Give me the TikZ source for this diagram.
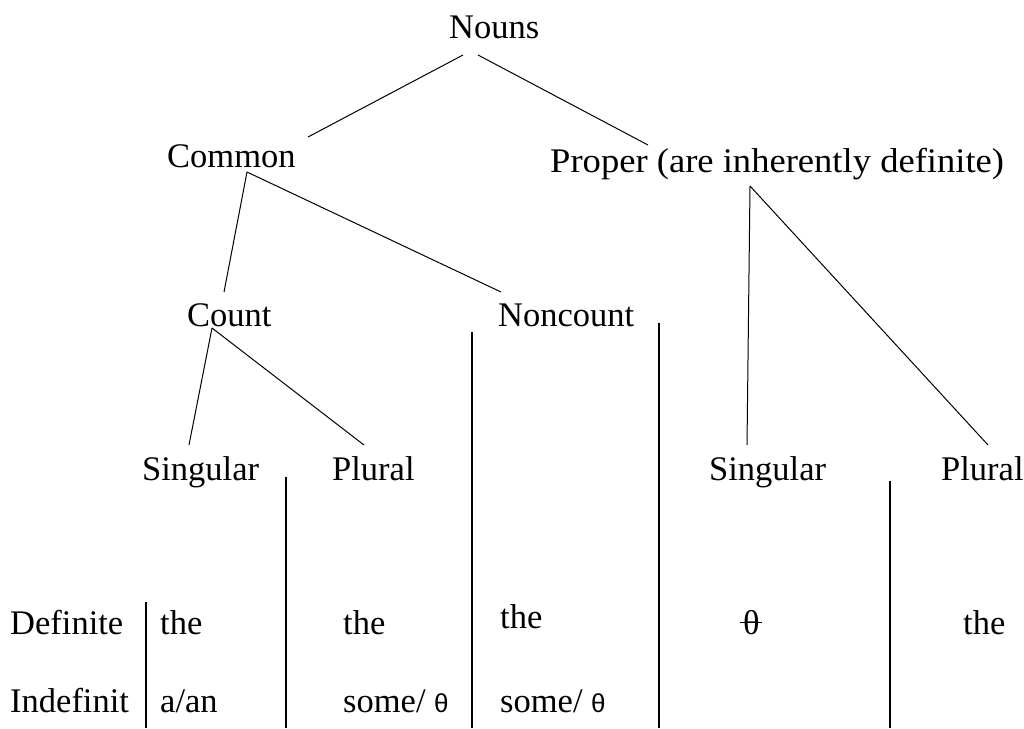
\documentclass[tikz,border=0pt]{standalone}
\usepackage{graphicx}
\usepackage{fontspec}
\setmainfont{Liberation Serif}
\newfontfamily\thsans{Liberation Sans}
\newlength\thw
\begin{document}
\begin{tikzpicture}[x=1pt,y=-1pt,
  lbl/.style={anchor=base west,inner sep=0pt,font=\fontsize{34.5}{40}\selectfont},
  edge/.style={draw=black,line width=1pt},
  rule/.style={draw=black,line width=1.2pt}]
\useasboundingbox (0,0) rectangle (1024,728);
\newcommand{\smalltheta}{{\thsans\fontsize{26}{30}\selectfont θ}}
\newcommand{\bartheta}{\settowidth{\thw}{θ}\rlap{\hspace{-0.08em}\rule[0.33em]{\dimexpr\thw+0.16em\relax}{0.9pt}}θ}
% tree labels
\node[lbl] (nouns) at (449,38) {Nouns};
\node[lbl] (common) at (167,167) {Common};
\node[lbl] (proper) at (550,172) {\scalebox{1.06}[1]{Proper (are inherently definite)}};
\node[lbl] (count) at (187,326) {Count};
\node[lbl] (noncount) at (498,326) {Noncount};
\node[lbl] (sing1) at (142,480) {Singular};
\node[lbl] (plur1) at (332,480) {Plural};
\node[lbl] (sing2) at (709,480) {Singular};
\node[lbl] (plur2) at (941,480) {Plural};
% row labels
\node[lbl] (def) at (10,634) {Definite};
\node[lbl] (indef) at (10,712) {Indefinit};
% cells
\node[lbl] (c1d) at (160,634) {the};
\node[lbl] (c1i) at (160,712) {a/an};
\node[lbl] (c2d) at (343,634) {the};
\node[lbl] (c2i) at (343,712) {some/ \smalltheta};
\node[lbl] (c3d) at (500,628) {the};
\node[lbl] (c3i) at (500,712) {some/ \smalltheta};
\node[lbl] (c4d) at (743,634) {\bartheta};
\node[lbl] (c5d) at (963,634) {the};
% connector end points
\coordinate (nounsL) at (463,55);
\coordinate (nounsR) at (478,55);
\coordinate (commonT) at (308,137);
\coordinate (commonB) at (247,172);
\coordinate (properT) at (648,145);
\coordinate (properB) at (750,186);
\coordinate (countT) at (224,292);
\coordinate (countB) at (212,328);
\coordinate (noncountT) at (501,292);
\coordinate (sing1T) at (189,445);
\coordinate (plur1T) at (364,445);
\coordinate (sing2T) at (747,445);
\coordinate (plur2T) at (988,445);
\draw[edge] (nounsL) -- (commonT);
\draw[edge] (nounsR) -- (properT);
\draw[edge] (commonB) -- (countT);
\draw[edge] (commonB) -- (noncountT);
\draw[edge] (countB) -- (sing1T);
\draw[edge] (countB) -- (plur1T);
\draw[edge] (properB) -- (sing2T);
\draw[edge] (properB) -- (plur2T);
% column rules
\coordinate (v1t) at (146,602); \coordinate (v1b) at (146,728);
\coordinate (v2t) at (286,477); \coordinate (v2b) at (286,728);
\coordinate (v3t) at (472,332); \coordinate (v3b) at (472,728);
\coordinate (v4t) at (659,323); \coordinate (v4b) at (659,728);
\coordinate (v5t) at (890,481); \coordinate (v5b) at (890,728);
\draw[rule] (v1t) -- (v1b);
\draw[rule] (v2t) -- (v2b);
\draw[rule] (v3t) -- (v3b);
\draw[rule] (v4t) -- (v4b);
\draw[rule] (v5t) -- (v5b);
\end{tikzpicture}
\end{document}
